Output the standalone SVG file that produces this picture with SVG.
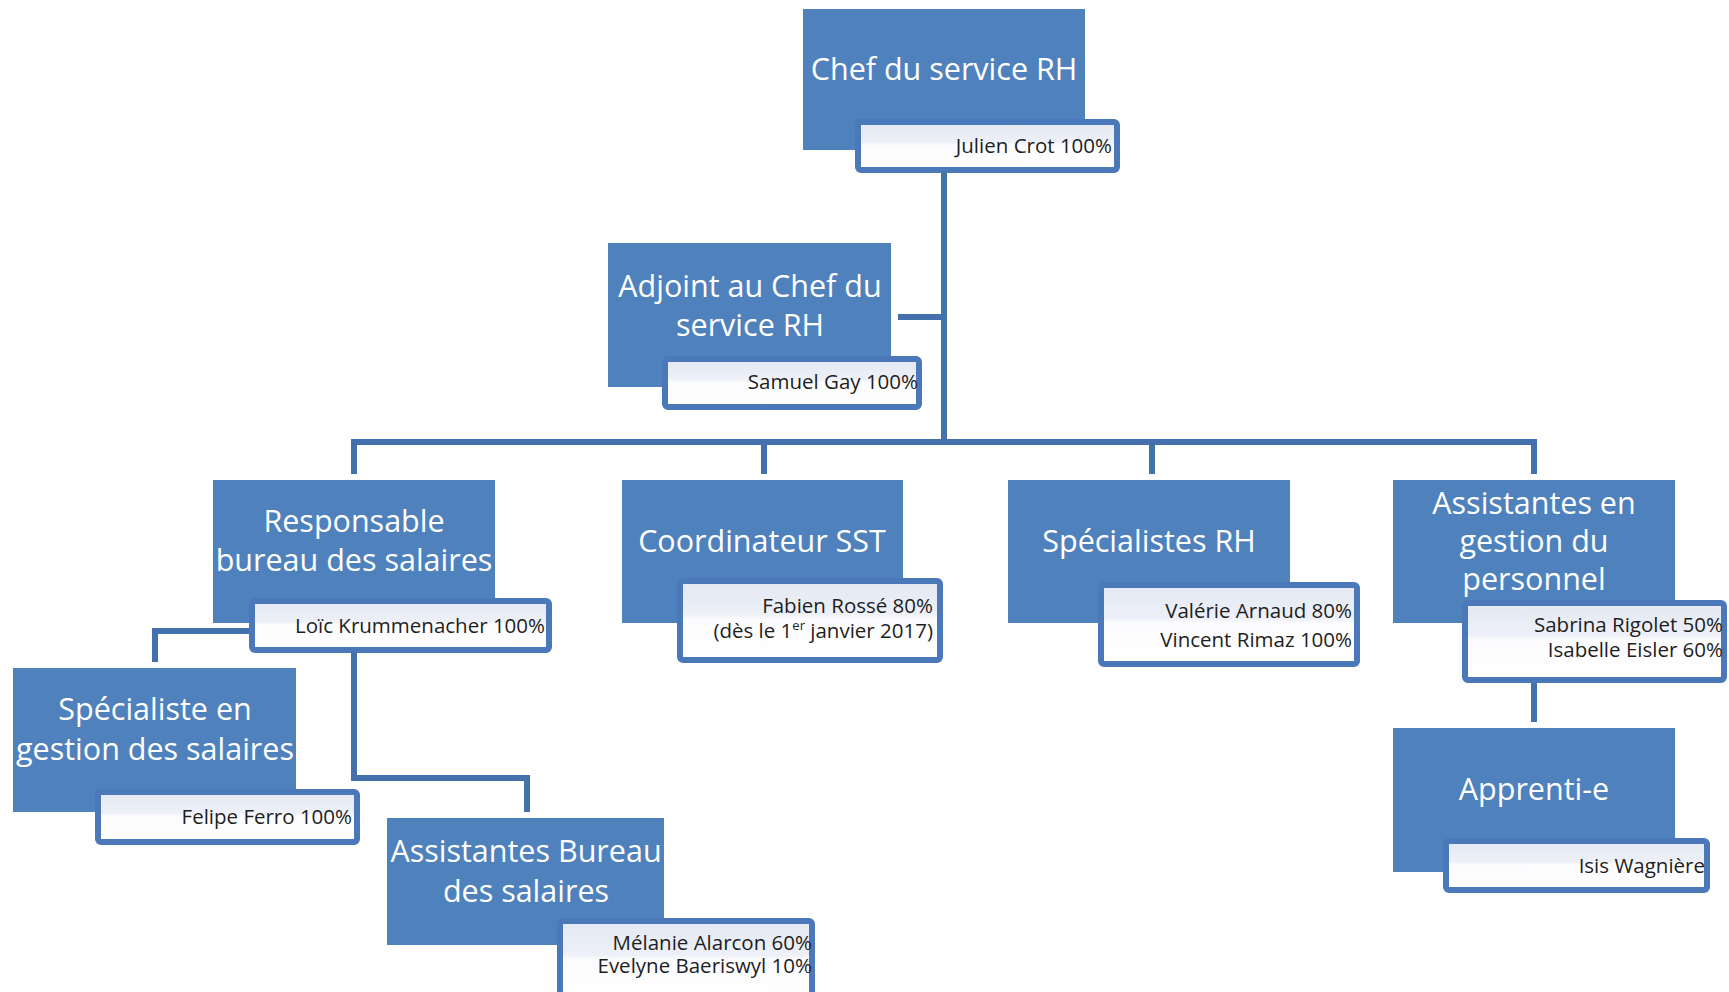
<svg xmlns="http://www.w3.org/2000/svg" width="1729" height="992" viewBox="0 0 1729 992">
<defs>
<linearGradient id="nameFill" x1="0" y1="0" x2="0" y2="1">
<stop offset="0" stop-color="#e3e8f2"/>
<stop offset="0.42" stop-color="#edf0f7"/>
<stop offset="0.48" stop-color="#fcfcfe"/>
<stop offset="1" stop-color="#ffffff"/>
</linearGradient>
</defs>
<style>
.box{fill:#4f81bd;}
.name{fill:url(#nameFill);stroke:#4a78b8;stroke-width:6;}
.title{font-family:"Open Sans","DejaVu Sans",sans-serif;font-size:30.5px;fill:#ffffff;text-anchor:middle;}
.person{font-family:"Open Sans","DejaVu Sans",sans-serif;font-size:20.5px;fill:#1e1e1e;text-anchor:end;}
.conn{fill:none;stroke:#4570ae;stroke-width:6;stroke-linejoin:miter;}
</style>
<rect x="0" y="0" width="1729" height="992" fill="#ffffff"/>

<g id="connectors">
<path class="conn" d="M944,173 V442"/>
<path class="conn" d="M898,317 H944"/>
<path class="conn" d="M351,442 H1537"/>
<path class="conn" d="M354,442 V474"/>
<path class="conn" d="M764,442 V474"/>
<path class="conn" d="M1152,442 V474"/>
<path class="conn" d="M1534,442 V474"/>
<path class="conn" d="M249,631 H155 V662"/>
<path class="conn" d="M354,653 V778 H527 V812"/>
<path class="conn" d="M1534,683 V722"/>
</g>

<g id="chef">
<rect class="box" x="803" y="9" width="282" height="141"/>
<rect class="name" x="858" y="122" width="259" height="48" rx="3"/>
<text class="title" x="944" y="80">Chef du service RH</text>
<text class="person" x="1112" y="153">Julien Crot 100%</text>
</g>

<g id="adjoint">
<rect class="box" x="608" y="243" width="283" height="144"/>
<rect class="name" x="665" y="359" width="254" height="48" rx="3"/>
<text class="title" x="750" y="297">Adjoint au Chef du</text>
<text class="title" x="750" y="336">service RH</text>
<text class="person" x="918" y="389">Samuel Gay 100%</text>
</g>

<g id="responsable">
<rect class="box" x="213" y="480" width="282" height="143"/>
<rect class="name" x="252" y="601" width="297" height="49" rx="3"/>
<text class="title" x="354" y="532">Responsable</text>
<text class="title" x="354" y="571">bureau des salaires</text>
<text class="person" x="545" y="633">Loïc Krummenacher 100%</text>
</g>

<g id="coordinateur">
<rect class="box" x="622" y="480" width="281" height="143"/>
<rect class="name" x="680" y="581" width="260" height="79" rx="3"/>
<text class="title" x="762" y="552">Coordinateur SST</text>
<text class="person" x="933" y="613">Fabien Rossé 80%</text>
<text class="person" x="933" y="638">(dès le 1<tspan font-size="13" dy="-8">er</tspan><tspan dy="8"> janvier 2017)</tspan></text>
</g>

<g id="specialistes-rh">
<rect class="box" x="1008" y="480" width="282" height="143"/>
<rect class="name" x="1101" y="585" width="256" height="79" rx="3"/>
<text class="title" x="1149" y="552">Spécialistes RH</text>
<text class="person" x="1352" y="618">Valérie Arnaud 80%</text>
<text class="person" x="1352" y="647">Vincent Rimaz 100%</text>
</g>

<g id="assistantes-gestion">
<rect class="box" x="1393" y="480" width="282" height="143"/>
<rect class="name" x="1465" y="603" width="259" height="77" rx="3"/>
<text class="title" x="1534" y="514">Assistantes en</text>
<text class="title" x="1534" y="552">gestion du</text>
<text class="title" x="1534" y="590">personnel</text>
<text class="person" x="1723" y="632">Sabrina Rigolet 50%</text>
<text class="person" x="1723" y="657">Isabelle Eisler 60%</text>
</g>

<g id="apprenti">
<rect class="box" x="1393" y="728" width="282" height="144"/>
<rect class="name" x="1446" y="841" width="261" height="49" rx="3"/>
<text class="title" x="1534" y="800">Apprenti-e</text>
<text class="person" x="1705" y="873">Isis Wagnière</text>
</g>

<g id="specialiste-salaires">
<rect class="box" x="13" y="668" width="283" height="144"/>
<rect class="name" x="98" y="792" width="259" height="50" rx="3"/>
<text class="title" x="155" y="720">Spécialiste en</text>
<text class="title" x="155" y="760">gestion des salaires</text>
<text class="person" x="352" y="824">Felipe Ferro 100%</text>
</g>

<g id="assistantes-bureau">
<rect class="box" x="387" y="818" width="277" height="127"/>
<rect class="name" x="560" y="921" width="252" height="80" rx="3"/>
<text class="title" x="526" y="862">Assistantes Bureau</text>
<text class="title" x="526" y="902">des salaires</text>
<text class="person" x="812" y="950">Mélanie Alarcon 60%</text>
<text class="person" x="812" y="973">Evelyne Baeriswyl 10%</text>
</g>
</svg>
